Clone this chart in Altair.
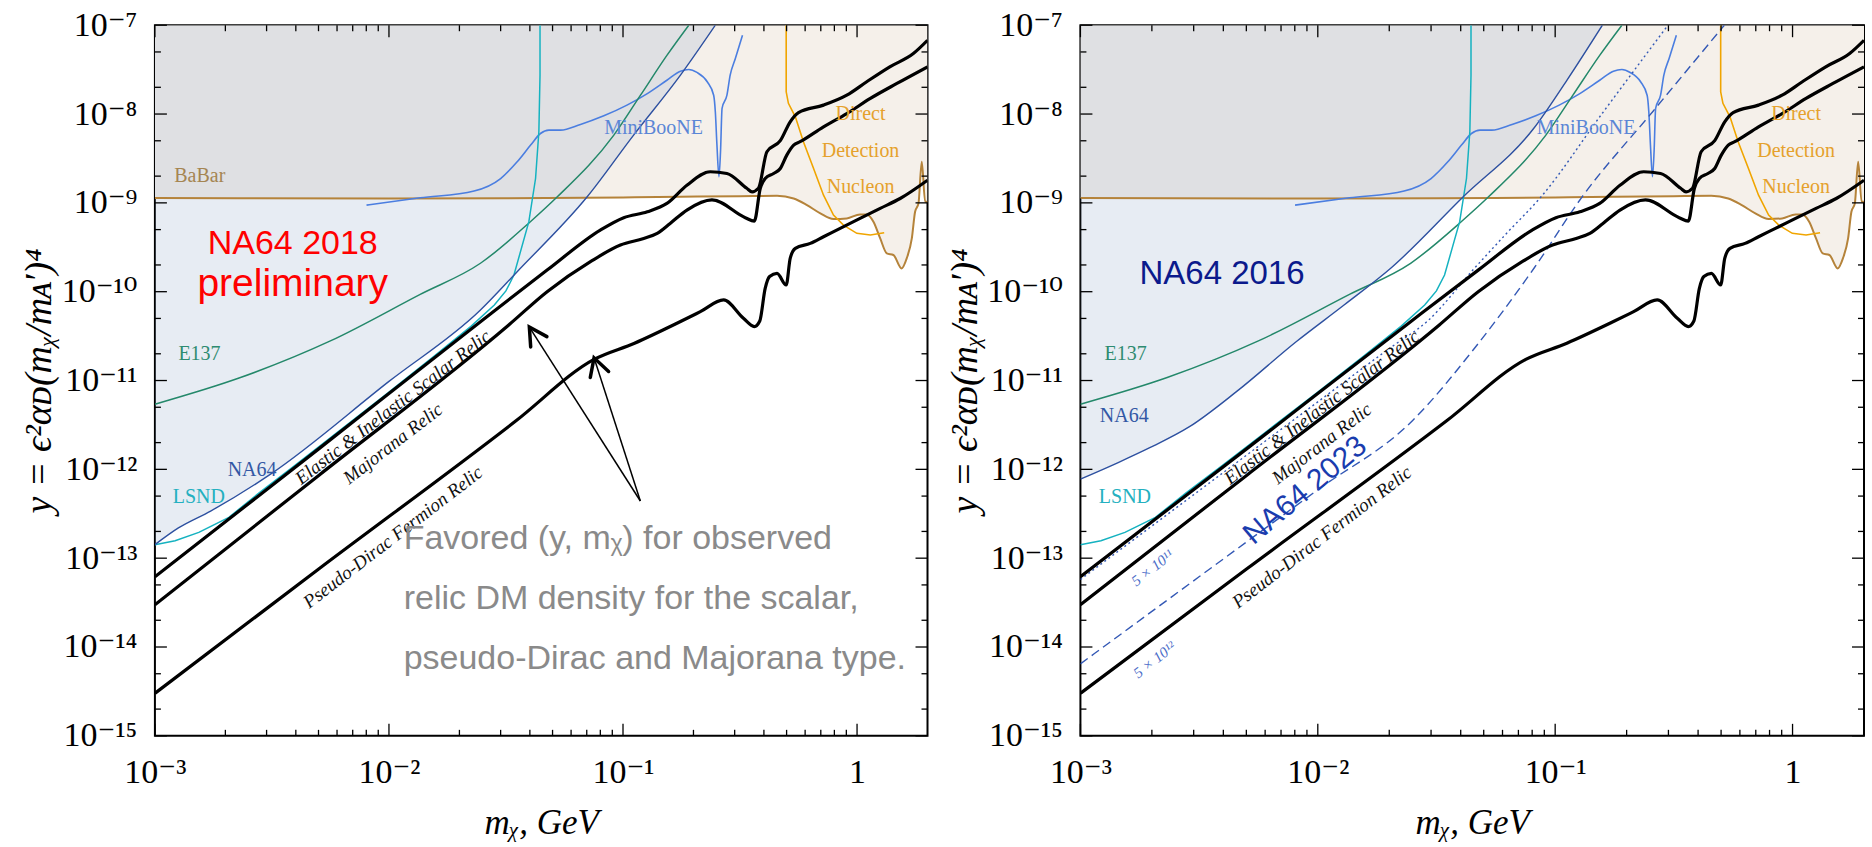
import math
import altair as alt
import pandas as pd

# ---------------- data (m in GeV, y dimensionless) ----------------
babar_m = [0.001, 0.01, 0.0316, 0.1, 0.176, 0.316, 0.455, 0.536, 0.611, 0.697, 0.793, 0.904, 1.03, 1.10,
           1.175, 1.256, 1.34, 1.43, 1.55, 1.63, 1.714, 1.77, 1.83, 1.89, 1.954, 2.0]
babar_y = [1.135e-9, 1.12e-9, 1.13e-9, 1.15e-9, 1.17e-9, 1.19e-9, 1.20e-9, 1.12e-9, 9.44e-10, 7.62e-10,
           6.58e-10, 6.68e-10, 7.41e-10, 7.41e-10, 6.14e-10, 3.98e-10, 2.70e-10, 2.59e-10, 1.83e-10,
           2.37e-10, 3.98e-10, 7.94e-10, 9.86e-10, 2.90e-9, 1.03e-9, 1.03e-9]

scalar_m = [0.001, 0.00501, 0.0246, 0.0474, 0.080, 0.1007, 0.127, 0.154, 0.1875, 0.236, 0.278, 0.338,
            0.356, 0.379, 0.412, 0.470, 0.518, 0.562, 0.719, 0.904, 1.10, 1.38, 1.74, 2.0]
scalar_y = [6.17e-14, 1.70e-12, 4.60e-11, 1.75e-10, 4.94e-10, 6.81e-10, 7.94e-10, 9.86e-10, 1.58e-9,
            2.24e-9, 2.14e-9, 1.46e-9, 1.33e-9, 1.46e-9, 3.76e-9, 5.01e-9, 8.18e-9, 1.04e-8, 1.26e-8,
            1.63e-8, 2.31e-8, 3.40e-8, 4.80e-8, 6.76e-8]

majorana_m = [0.001, 0.00501, 0.0325, 0.0474, 0.0726, 0.0975, 0.1226, 0.140, 0.159, 0.1875, 0.240, 0.333,
              0.364, 0.386, 0.405, 0.440, 0.470, 0.501, 0.536, 0.571, 0.719, 0.904, 1.14, 1.48, 2.0]
majorana_y = [2.99e-14, 8.55e-13, 4.22e-11, 1.0e-10, 2.18e-10, 3.35e-10, 3.98e-10, 4.54e-10, 5.87e-10,
              8.30e-10, 1.08e-9, 6.81e-10, 6.24e-10, 1.46e-9, 1.88e-9, 2.14e-9, 2.44e-9, 3.45e-9,
              4.47e-9, 4.88e-9, 7.18e-9, 1.01e-8, 1.50e-8, 2.21e-8, 3.40e-8]

pdirac_m = [0.001, 0.00501, 0.0349, 0.0752, 0.112, 0.170, 0.214, 0.269, 0.327, 0.364, 0.384, 0.405,
            0.423, 0.455, 0.498, 0.518, 0.545, 0.631, 0.719, 0.847, 1.03, 1.256, 1.528, 2.0]
pdirac_y = [3.01e-15, 7.55e-14, 3.52e-12, 1.73e-11, 2.63e-11, 4.41e-11, 5.96e-11, 8.07e-11, 5.01e-11,
            4.05e-11, 4.68e-11, 1.09e-10, 1.48e-10, 1.61e-10, 1.19e-10, 2.37e-10, 3.08e-10, 3.50e-10,
            4.16e-10, 5.16e-10, 6.68e-10, 8.67e-10, 1.12e-9, 1.80e-9]

miniboone_m = [0.00802, 0.0136, 0.0231, 0.0300, 0.0353, 0.0403, 0.0444, 0.0482, 0.0541, 0.0658,
               0.0828, 0.104, 0.127, 0.154, 0.176, 0.191, 0.207, 0.229, 0.244, 0.248, 0.252, 0.257,
               0.261, 0.265, 0.278, 0.287, 0.302, 0.324]
miniboone_y = [9.44e-10, 1.14e-9, 1.36e-9, 1.88e-9, 2.90e-9, 4.47e-9, 6.04e-9, 6.59e-9, 6.59e-9,
               7.64e-9, 9.55e-9, 1.26e-8, 1.70e-8, 2.40e-8, 3.04e-8, 3.17e-8, 2.94e-8, 2.31e-8, 1.63e-8,
               1.06e-8, 4.47e-9, 1.97e-9, 3.76e-9, 1.16e-8, 1.63e-8, 2.74e-8, 4.22e-8, 7.73e-8]

lsnd_m = [0.001, 0.00122, 0.00154, 0.00207, 0.00277, 0.00398, 0.00631, 0.01, 0.0158, 0.0224, 0.0282,
          0.0316, 0.0342, 0.0396, 0.0423, 0.0437, 0.0442, 0.0442]
lsnd_y = [1.42e-13, 1.57e-13, 1.95e-13, 2.88e-13, 5.37e-13, 1.12e-12, 2.88e-12, 7.41e-12, 1.93e-11,
          4.07e-11, 7.08e-11, 1.02e-10, 1.54e-10, 6.14e-10, 1.88e-9, 6.31e-9, 2.74e-8, 1.0e-7]

e137_m = [0.001, 0.00232, 0.00562, 0.0136, 0.0246, 0.0403, 0.0524, 0.0912, 0.1186, 0.154, 0.191]
e137_y = [5.41e-12, 1.08e-11, 2.79e-11, 9.33e-11, 2.09e-10, 6.17e-10, 1.17e-9, 5.75e-9, 1.62e-8,
          4.57e-8, 1.0e-7]

na64_2018_m = [0.001, 0.00126, 0.00173, 0.00312, 0.01, 0.0246, 0.0353, 0.0703, 0.111, 0.176, 0.248]
na64_2018_y = [1.42e-13, 2.19e-13, 3.39e-13, 8.83e-13, 9.77e-12, 6.22e-11, 1.68e-10, 1.17e-9, 5.79e-9,
               2.74e-8, 1.0e-7]

na64_2016_m = [0.001, 0.00145, 0.00195, 0.00288, 0.00457, 0.00813, 0.0129, 0.0204, 0.0407, 0.0813,
               0.112, 0.158]
na64_2016_y = [7.76e-13, 1.20e-12, 1.74e-12, 3.02e-12, 7.59e-12, 2.75e-11, 7.08e-11, 1.86e-10, 1.15e-9,
               6.92e-9, 2.40e-8, 1.0e-7]

proj_5e11_m = [0.001, 0.00316, 0.01, 0.02, 0.029, 0.0459, 0.0631, 0.0865, 0.158, 0.2985]
proj_5e11_y = [5.75e-14, 5.75e-13, 5.75e-12, 2.29e-11, 4.68e-11, 1.86e-10, 4.68e-10, 1.14e-9, 1.02e-8,
               1.0e-7]

proj_5e12_m = [0.001, 0.00316, 0.01, 0.0251, 0.0459, 0.0817, 0.129, 0.258, 0.516]
proj_5e12_y = [6.46e-15, 6.17e-14, 5.89e-13, 3.55e-12, 2.34e-11, 1.86e-10, 1.14e-9, 1.07e-8, 1.0e-7]

direct_m = [0.498, 0.498, 0.509, 0.545, 0.590, 0.652, 0.719, 0.793, 0.875, 0.998, 1.14, 1.306]
direct_y = [1.0e-7, 1.78e-8, 1.32e-8, 9.31e-9, 4.88e-9, 2.44e-9, 1.22e-9, 7.29e-10, 5.62e-10,
            4.54e-10, 4.35e-10, 4.61e-10]

# axis ticks and their labels
x_major = [0.001, 0.01, 0.1, 1.0]
x_major_text = ["10⁻³", "10⁻²", "10⁻¹", "1"]
x_minor = [0.002, 0.003, 0.004, 0.005, 0.006, 0.007, 0.008, 0.009,
           0.02, 0.03, 0.04, 0.05, 0.06, 0.07, 0.08, 0.09,
           0.2, 0.3, 0.4, 0.5, 0.6, 0.7, 0.8, 0.9]
y_major = [1e-15, 1e-14, 1e-13, 1e-12, 1e-11, 1e-10, 1e-9, 1e-8, 1e-7]
y_major_text = ["10⁻¹⁵", "10⁻¹⁴", "10⁻¹³", "10⁻¹²", "10⁻¹¹", "10⁻¹⁰", "10⁻⁹", "10⁻⁸", "10⁻⁷"]
y_minor = [2e-15, 5e-15, 2e-14, 5e-14, 2e-13, 5e-13, 2e-12, 5e-12, 2e-11, 5e-11,
           2e-10, 5e-10, 2e-9, 5e-9, 2e-8, 5e-8]

# ---------------- styling / layout ----------------
SERIF = "Liberation Serif, DejaVu Serif, serif"
SANS = "Liberation Sans, Arial, sans-serif"
XD = [0.001, 2.0]
YD = [1e-15, 1e-7]
H = 711
W_LEFT, W_RIGHT = 773, 784

BEIGE = "#f5f0ea"
BLUE = "#9bb0cd"
C_BABAR = "#b5833a"
C_DD = "#f0a500"
C_MB = "#4b7ee0"
C_E137 = "#24886a"
C_LSND = "#15b2c0"
C_NA64 = "#2d50a0"
C_PROJ = "#3358b5"


def label_expr(vals, texts):
    expr = "''"
    for v, t in zip(reversed(vals), reversed(texts)):
        expr = f"(abs(log(datum.value)/LN10 - ({math.log10(v):.4f})) < 0.01) ? '{t}' : {expr}"
    return expr


XS = alt.Scale(type="log", domain=XD, nice=False)
YS = alt.Scale(type="log", domain=YD, nice=False)
XAX = alt.Axis(values=x_major, labelExpr=label_expr(x_major, x_major_text), ticks=False, domain=False,
               grid=False, labelFont=SERIF, labelFontSize=34, labelColor="black", labelPadding=20,
               labelFlush=False, labelOverlap=False, title="mᵪ, GeV", titleFont=SERIF,
               titleFontSize=35, titleFontStyle="italic", titleFontWeight="normal", titleColor="black",
               titleBaseline="alphabetic", titleY=98)
YAX = alt.Axis(values=y_major, labelExpr=label_expr(y_major, y_major_text), ticks=False, domain=False,
               grid=False, labelFont=SERIF, labelFontSize=34, labelColor="black", labelPadding=18,
               labelBaseline="middle", labelFlush=False, labelOverlap=False,
               title="y = ϵ²αᴅ(mᵪ/mᴀ′)⁴", titleFont=SERIF, titleFontSize=38, titleFontStyle="italic",
               titleFontWeight="normal", titleColor="black", titleAngle=270, titleAlign="center",
               titleBaseline="bottom", titleX=-96, titleY=H / 2)


def X():
    return alt.X("m:Q", scale=XS, axis=XAX)


def Y():
    return alt.Y("y:Q", scale=YS, axis=YAX)


def line(ms, ys, color, width, dash=None, interp="monotone"):
    df = pd.DataFrame({"m": ms, "y": ys, "i": list(range(len(ms)))})
    kw = dict(color=color, strokeWidth=width, clip=True, interpolate=interp)
    if dash:
        kw["strokeDash"] = dash
    return alt.Chart(df).mark_line(**kw).encode(x=X(), y=Y(), order=alt.Order("i:Q"))


def region(ms, ys, color, opacity=1.0):
    df = pd.DataFrame({"m": ms, "y": ys, "top": [YD[1]] * len(ms)})
    return alt.Chart(df).mark_area(color=color, opacity=opacity, clip=True, interpolate="monotone").encode(
        x=X(), y=Y(), y2=alt.Y2("top:Q"))


def texts(rows, **kw):
    df = pd.DataFrame(rows, columns=["t", "m", "y"])
    return alt.Chart(df).mark_text(**kw).encode(x=X(), y=Y(), text="t:N")


def frame_ticks(W):
    out = []
    for vals, L in [(x_major, 12), (x_minor, 6)]:
        base = alt.Chart(pd.DataFrame({"m": vals})).mark_rule(color="black", strokeWidth=1.3)
        out.append(base.encode(x=X(), y=alt.value(H), y2=alt.value(H - L)))
        out.append(base.encode(x=X(), y=alt.value(0), y2=alt.value(L)))
    for vals, L in [(y_major, 12), (y_minor, 6)]:
        base = alt.Chart(pd.DataFrame({"y": vals})).mark_rule(color="black", strokeWidth=1.3)
        out.append(base.encode(y=Y(), x=alt.value(0), x2=alt.value(L)))
        out.append(base.encode(y=Y(), x=alt.value(W), x2=alt.value(W - L)))
    return out


def common_lines():
    return [
        line(babar_m, babar_y, C_BABAR, 2.0),
        line(direct_m, direct_y, C_DD, 1.6, interp="linear"),
        line(miniboone_m, miniboone_y, C_MB, 1.6),
        line(e137_m, e137_y, C_E137, 1.5),
        line(lsnd_m, lsnd_y, C_LSND, 1.5, interp="linear"),
    ]


def relic_lines():
    return [
        line(scalar_m, scalar_y, "black", 3.2),
        line(majorana_m, majorana_y, "black", 3.2),
        line(pdirac_m, pdirac_y, "black", 3.2),
    ]


def common_texts(na64_pos):
    return [
        texts([("MiniBooNE", 0.135, 6.9e-9)], font=SERIF, fontSize=20, color="#5b86d6", align="center",
              baseline="middle"),
        texts([("Direct", 1.035, 1.0e-8), ("Detection", 1.035, 3.83e-9), ("Nucleon", 1.035, 1.51e-9)],
              font=SERIF, fontSize=20, color="#e5a12c", align="center", baseline="middle"),
        texts([("E137", 0.00155, 2.0e-11)], font=SERIF, fontSize=20, color="#2e8b70", align="center",
              baseline="middle"),
        texts([("NA64",) + na64_pos], font=SERIF, fontSize=20, color="#3358a5", align="center",
              baseline="middle"),
        texts([("LSND", 0.00154, 4.9e-13)], font=SERIF, fontSize=20, color="#24b0c0", align="center",
              baseline="middle"),
        texts([("Elastic & Inelastic Scalar Relic", 0.0104, 5.0e-12),
               ("Majorana Relic", 0.0104, 1.95e-12),
               ("Pseudo-Dirac Fermion Relic", 0.0104, 1.72e-13)],
              font=SERIF, fontSize=19, fontStyle="italic", color="#111111", align="center",
              baseline="middle", angle=322.5),
    ]


# ---------------- left panel ----------------
arrow_tail = (0.1186, 4.4e-13)
arrow_heads = [(0.0398, 4.0e-11, 327.4), (0.0752, 1.8e-11, 342.0)]
shafts = pd.DataFrame({"m": [arrow_tail[0]] * 2, "y": [arrow_tail[1]] * 2,
                       "m2": [h[0] for h in arrow_heads], "y2": [h[1] for h in arrow_heads]})
heads = pd.DataFrame({"m": [h[0] for h in arrow_heads], "y": [h[1] for h in arrow_heads],
                      "a": [h[2] for h in arrow_heads]})

left_layers = [
    region(babar_m, babar_y, BEIGE),
    region(na64_2018_m, na64_2018_y, BLUE, 0.24),
] + common_lines() + [
    line(na64_2018_m, na64_2018_y, C_NA64, 1.4),
] + relic_lines() + common_texts((0.0026, 9.9e-13)) + [
    texts([("BaBar", 0.00121, 2.0e-9)], font=SERIF, fontSize=20, color="#a58552", align="left",
          baseline="middle"),
    texts([("NA64 2018", 0.00388, 2.65e-10)], font=SANS, fontSize=34, color="#ff0000", align="center",
          baseline="alphabetic"),
    texts([("preliminary", 0.00388, 8.95e-11)], font=SANS, fontSize=39, color="#ff0000", align="center",
          baseline="alphabetic"),
    texts([("Favored (y, mᵪ) for observed", 0.01156, 1.28e-13),
           ("relic DM density for the scalar,", 0.01156, 2.70e-14),
           ("pseudo-Dirac and Majorana type.", 0.01156, 5.70e-15)],
          font=SANS, fontSize=34, color="#8a8a8a", align="left", baseline="alphabetic"),
    alt.Chart(shafts).mark_rule(color="black", strokeWidth=1.5).encode(
        x=X(), y=Y(), x2=alt.X2("m2:Q"), y2=alt.Y2("y2:Q")),
    alt.Chart(heads).mark_point(shape="M -0.55 1 L 0 0 L 0.55 1", filled=False, size=1225, strokeWidth=3.5,
                                color="black", opacity=1, strokeCap="round").encode(
        x=X(), y=Y(), angle=alt.Angle("a:Q", scale=None)),
] + frame_ticks(W_LEFT)

left = alt.layer(*left_layers).properties(width=W_LEFT, height=H)

# ---------------- right panel ----------------
right_layers = [
    region(babar_m, babar_y, BEIGE),
    region(na64_2016_m, na64_2016_y, BLUE, 0.24),
] + common_lines() + [
    line(na64_2016_m, na64_2016_y, C_NA64, 1.4),
    line(proj_5e11_m, proj_5e11_y, C_PROJ, 1.4, dash=[2, 3]),
    line(proj_5e12_m, proj_5e12_y, C_PROJ, 1.4, dash=[9, 5]),
] + relic_lines() + common_texts((0.00153, 4.0e-12)) + [
    texts([("NA64 2016", 0.00395, 1.22e-10)], font=SANS, fontSize=33, color="#0b1a8c", align="center",
          baseline="alphabetic"),
    texts([("NA64 2023", 0.00885, 5.8e-13)], font=SANS, fontSize=30, color="#1a3cae", align="center",
          baseline="middle", angle=320),
    texts([("5 × 10¹¹", 0.00201, 7.8e-14), ("5 × 10¹²", 0.00205, 7.2e-15)], font=SERIF, fontSize=15,
          fontStyle="italic", color="#4a6cc8", align="center", baseline="middle", angle=322),
] + frame_ticks(W_RIGHT)

right = alt.layer(*right_layers).properties(width=W_RIGHT, height=H)

chart = alt.hconcat(left, right, spacing=153, bounds="flush").properties(
    padding={"left": 20, "top": 7, "right": 6, "bottom": 4}, background="white"
).configure_view(stroke="black", strokeWidth=2)

chart.save("out.html", embed_options={"renderer": "svg", "actions": False})
